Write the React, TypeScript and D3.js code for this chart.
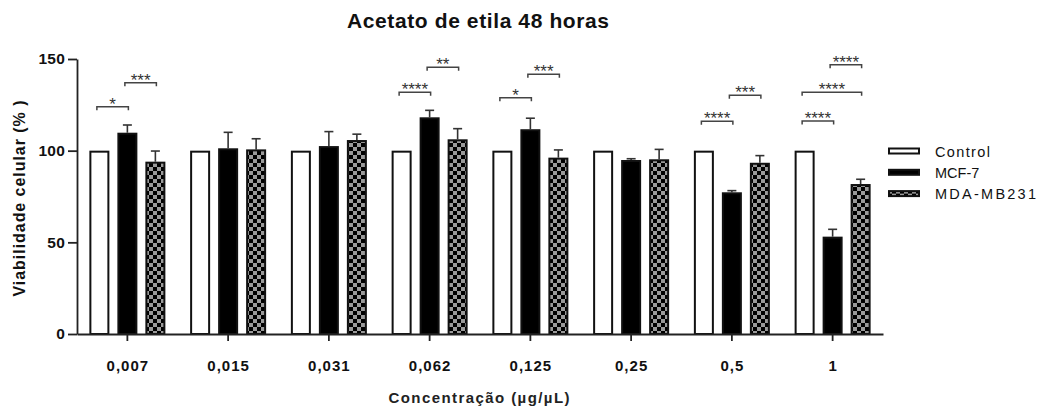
import React, {useEffect, useRef} from 'react'
import * as d3 from 'd3'

const width = 1041
const height = 409
const margin = {top: 59, right: 158, bottom: 75, left: 77}
const innerWidth = width - margin.left - margin.right
const innerHeight = height - margin.top - margin.bottom

const categories = ['0,007', '0,015', '0,031', '0,062', '0,125', '0,25', '0,5', '1']
const seriesNames = ['Control', 'MCF-7', 'MDA-MB231']
const control = [100, 100, 100, 100, 100, 100, 100, 100]
const mcf7 = [109.8, 101.3, 102.5, 118.2, 111.7, 94.9, 77.3, 53.1]
const mcf7Err = [4.2, 8.7, 7.9, 3.8, 6, 0.7, 0.9, 4]
const mda = [94, 100.7, 105.8, 106.2, 96.2, 95.3, 93.4, 81.8]
const mdaErr = [5.8, 5.8, 3.2, 5.8, 4.2, 5.4, 3.9, 2.6]
const yTicks = [0, 50, 100, 150]

// significance brackets: group, from series, to series, height (in %), stars
const signif = [
  {group: '0,007', a: 0, b: 1, y: 124, label: '*'},
  {group: '0,007', a: 1, b: 2, y: 137, label: '***'},
  {group: '0,062', a: 0, b: 1, y: 131.8, label: '****'},
  {group: '0,062', a: 1, b: 2, y: 145.5, label: '**'},
  {group: '0,125', a: 0, b: 1, y: 128.9, label: '*'},
  {group: '0,125', a: 1, b: 2, y: 141.7, label: '***'},
  {group: '0,5', a: 0, b: 1, y: 116, label: '****'},
  {group: '0,5', a: 1, b: 2, y: 130.2, label: '***'},
  {group: '1', a: 0, b: 1, y: 116.2, label: '****'},
  {group: '1', a: 0, b: 2, y: 131.9, label: '****'},
  {group: '1', a: 1, b: 2, y: 146.8, label: '****'},
]

const font = '"Liberation Sans", Arial, Helvetica, sans-serif'
const fills = ['#ffffff', '#000000', 'url(#checker)']

const App = () => {
  const chartRef = useRef(null)

  useEffect(() => {
    drawChart()
  }, [])

  const drawChart = () => {
    const svg = d3.select(chartRef.current)
    svg.selectAll('*').remove()

    const defs = svg.append('defs')
    const pat = defs
      .append('pattern')
      .attr('id', 'checker')
      .attr('patternUnits', 'userSpaceOnUse')
      .attr('width', 8)
      .attr('height', 8)
    pat.append('rect').attr('width', 8).attr('height', 8).attr('fill', '#9a9a9a')
    pat.append('rect').attr('width', 4).attr('height', 4).attr('fill', '#000')
    pat.append('rect').attr('x', 4).attr('y', 4).attr('width', 4).attr('height', 4).attr('fill', '#000')

    const x0 = d3.scaleBand().domain(categories).range([0, innerWidth])
    const x1 = d3
      .scaleBand()
      .domain(seriesNames)
      .range([-38, 38])
      .paddingInner(8 / 28)
    const y = d3.scaleLinear().domain([0, 150]).range([innerHeight, 0])

    const g = svg
      .append('g')
      .attr('transform', `translate(${margin.left},${margin.top})`)

    const rows = categories.map((c, i) => ({
      cat: c,
      vals: [
        {s: 0, v: control[i], e: 0},
        {s: 1, v: mcf7[i], e: mcf7Err[i]},
        {s: 2, v: mda[i], e: mdaErr[i]},
      ],
    }))

    const cx = (cat, s) =>
      x0(cat) + x0.bandwidth() / 2 + x1(seriesNames[s]) + x1.bandwidth() / 2

    const groups = g
      .selectAll('g.grp')
      .data(rows)
      .enter()
      .append('g')
      .attr('class', 'grp')

    // error bars (upward only)
    groups.each(function (row) {
      const gg = d3.select(this)
      row.vals
        .filter(d => d.e > 0)
        .forEach(d => {
          const xc = cx(row.cat, d.s)
          gg.append('line')
            .attr('x1', xc).attr('x2', xc)
            .attr('y1', y(d.v)).attr('y2', y(d.v + d.e))
            .attr('stroke', '#333').attr('stroke-width', 1.6)
          gg.append('line')
            .attr('x1', xc - 4.5).attr('x2', xc + 4.5)
            .attr('y1', y(d.v + d.e)).attr('y2', y(d.v + d.e))
            .attr('stroke', '#333').attr('stroke-width', 1.6)
        })
    })

    groups
      .selectAll('rect')
      .data(d => d.vals.map(v => ({...v, cat: d.cat})))
      .enter()
      .append('rect')
      .attr('x', d => cx(d.cat, d.s) - x1.bandwidth() / 2 + 1)
      .attr('y', d => y(d.v) + 1)
      .attr('width', x1.bandwidth() - 2)
      .attr('height', d => innerHeight - y(d.v) - 1)
      .attr('fill', d => fills[d.s])
      .attr('stroke', '#111')
      .attr('stroke-width', 2)

    // axes
    const xAxis = g
      .append('g')
      .attr('transform', `translate(0, ${innerHeight})`)
      .call(d3.axisBottom(x0).tickSize(7).tickSizeOuter(0))
    xAxis.selectAll('text')
      .attr('y', 26)
      .attr('dx', '0.5px')
      .style('font-family', font)
      .style('font-size', '15px')
      .style('font-weight', 'bold')
      .style('letter-spacing', '1px')
      .attr('fill', '#111')

    const yAxis = g
      .append('g')
      .call(d3.axisLeft(y).tickValues(yTicks).tickSize(9).tickSizeOuter(0))
    yAxis.selectAll('text')
      .attr('x', -12)
      .style('font-family', font)
      .style('font-size', '15.5px')
      .style('font-weight', 'bold')
      .style('letter-spacing', '0.2px')
      .attr('fill', '#111')

    svg.selectAll('.domain, .tick line')
      .attr('stroke', '#222')
      .attr('stroke-width', 1.8)

    // significance brackets
    signif.forEach(s => {
      const xa = cx(s.group, s.a) - 2.5
      const xb = cx(s.group, s.b) + 1
      const yy = y(s.y)
      g.append('path')
        .attr('d', `M${xa},${yy + 3.5}V${yy}H${xb}V${yy + 3.5}`)
        .attr('fill', 'none')
        .attr('stroke', '#444')
        .attr('stroke-width', 1.5)
      g.append('text')
        .attr('x', (xa + xb) / 2)
        .attr('y', yy + 3)
        .attr('text-anchor', 'middle')
        .style('font-family', font)
        .style('font-size', '17px')
        .attr('fill', '#333')
        .text(s.label)
    })

    // title
    svg.append('text')
      .attr('x', 478)
      .attr('y', 28)
      .attr('text-anchor', 'middle')
      .attr('textLength', 262)
      .attr('lengthAdjust', 'spacing')
      .style('font-family', font)
      .style('font-size', '21px')
      .style('font-weight', 'bold')
      .attr('fill', '#111')
      .text('Acetato de etila 48 horas')

    // y label
    svg.append('text')
      .attr('transform', 'translate(25, 198.5) rotate(-90)')
      .attr('text-anchor', 'middle')
      .attr('textLength', 196)
      .attr('lengthAdjust', 'spacing')
      .style('font-family', font)
      .style('font-size', '16px')
      .style('font-weight', 'bold')
      .attr('fill', '#111')
      .text('Viabilidade celular (% )')

    // x label
    svg.append('text')
      .attr('x', 479)
      .attr('y', 403)
      .attr('text-anchor', 'middle')
      .attr('textLength', 181)
      .attr('lengthAdjust', 'spacing')
      .style('font-family', font)
      .style('font-size', '15px')
      .style('font-weight', 'bold')
      .attr('fill', '#222')
      .text('Concentração (µg/µL)')

    // legend
    const legendWidths = [55, null, 101]
    const legend = svg.append('g').attr('transform', 'translate(888, 151)')
    seriesNames.forEach((name, i) => {
      const row = legend.append('g').attr('transform', `translate(0, ${i * 21.3})`)
      row.append('rect')
        .attr('x', 1).attr('y', -2.5)
        .attr('width', 30).attr('height', 5)
        .attr('fill', fills[i])
        .attr('stroke', '#111')
        .attr('stroke-width', 2)
      const t = row.append('text')
        .attr('x', 47)
        .attr('y', 5.5)
        .style('font-family', font)
        .style('font-size', '14.5px')
        .attr('fill', '#111')
        .text(name)
      if (legendWidths[i]) {
        t.attr('textLength', legendWidths[i]).attr('lengthAdjust', 'spacing')
      }
    })
  }

  return (
    <div style={{position: 'absolute', left: 0, top: 0, background: '#fff'}}>
      <svg ref={chartRef} width={width} height={height}></svg>
    </div>
  )
}

export default App
